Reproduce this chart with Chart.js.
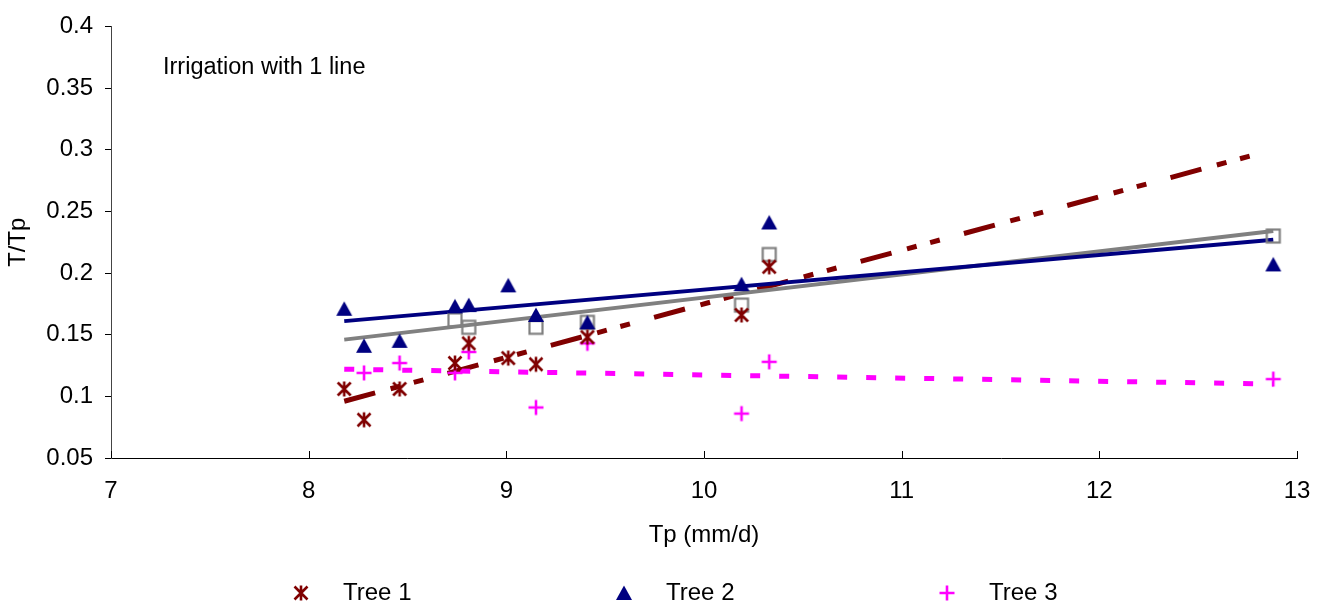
<!DOCTYPE html>
<html>
<head>
<meta charset="utf-8">
<script src="https://cdn.jsdelivr.net/npm/chart.js@4.4.0/dist/chart.umd.min.js"></script>
<style>
	html, body { margin: 0; padding: 0; background: #fff; }
	#wrap { width: 1332px; height: 614px; }
</style>
</head>
<body>
<div id="wrap"><canvas id="tpChart" width="1332" height="614"></canvas></div>
<script>
// ================================ [ Data ] ================================

// Tree 1
const tpTree1 = [8.18, 8.28, 8.46, 8.74, 8.81, 9.01, 9.15, 9.41, 10.19, 10.33];
const ratioTree1 = [0.106, 0.081, 0.106, 0.127, 0.143, 0.131, 0.126, 0.148, 0.166, 0.205];

// Tree 2
const tpTree2 = [8.18, 8.28, 8.46, 8.74, 8.81, 9.01, 9.15, 9.41, 10.19, 10.33, 12.88];
const ratioTree2 = [0.171, 0.141, 0.145, 0.173, 0.174, 0.190, 0.166, 0.160, 0.191, 0.241, 0.207];

// Tree 3
const tpTree3 = [8.28, 8.46, 8.74, 8.81, 9.15, 9.41, 10.19, 10.33, 12.88];
const ratioTree3 = [0.119, 0.127, 0.119, 0.136, 0.091, 0.143, 0.086, 0.128, 0.114];

// average (grey squares, not in legend)
const tpMean = [8.74, 8.81, 9.15, 9.41, 10.19, 10.33, 12.88];
const ratioMean = [0.162, 0.156, 0.156, 0.160, 0.174, 0.215, 0.230];

// trend lines, end points
const trendTp = [8.18, 12.88];
const trendTree1 = [0.096, 0.300];
const trendTree2 = [0.161, 0.227];
const trendTree3 = [0.122, 0.110];
const trendMean = [0.146, 0.234];

// axis ticks
const xTicks = [7, 8, 9, 10, 11, 12, 13];
const yTicks = [0.05, 0.1, 0.15, 0.2, 0.25, 0.3, 0.35, 0.4];

const noteText = "Irrigation with 1 line";

// ================================ [ Markers ] ================================

const makeMarker = (kind, color) => {
	const c = document.createElement("canvas");
	c.width = 20;
	c.height = 20;
	const g = c.getContext("2d");
	g.strokeStyle = color;
	g.fillStyle = color;
	g.lineWidth = 2.6;
	g.beginPath();
	if(kind === "asterisk"){
		g.moveTo(3.5, 3.5); g.lineTo(16.5, 16.5);
		g.moveTo(16.5, 3.5); g.lineTo(3.5, 16.5);
		g.moveTo(10, 2.5); g.lineTo(10, 17.5);
		g.stroke();
	} else if(kind === "triangle"){
		g.moveTo(10, 2.5); g.lineTo(18, 17); g.lineTo(2, 17);
		g.closePath();
		g.fill();
	} else if(kind === "plus"){
		g.moveTo(2.5, 10); g.lineTo(17.5, 10);
		g.moveTo(10, 2.5); g.lineTo(10, 17.5);
		g.stroke();
	} else {
		g.lineWidth = 2.2;
		g.strokeRect(3.5, 3.5, 13, 13);
	}
	return c;
};

const toPoints = (xs, ys) => xs.map((x, i) => ({x: x, y: ys[i]}));

// ================================ [ Plugins ] ================================

// x axis ticks point up into the plot
const inwardTicks = {
	id: "inwardTicks",
	afterDraw(chart){
		const ctx = chart.ctx;
		const sx = chart.scales.x;
		const bottom = chart.chartArea.bottom;
		ctx.save();
		ctx.strokeStyle = "#000";
		ctx.lineWidth = 1;
		xTicks.forEach((v) => {
			const px = Math.round(sx.getPixelForValue(v)) + 0.5;
			ctx.beginPath();
			ctx.moveTo(px, bottom);
			ctx.lineTo(px, bottom - 7);
			ctx.stroke();
		});
		ctx.restore();
	}
};

// text label inside the plot
const noteLabel = {
	id: "noteLabel",
	afterDraw(chart){
		const ctx = chart.ctx;
		const area = chart.chartArea;
		ctx.save();
		ctx.font = "23.5px 'Liberation Sans', Arial, sans-serif";
		ctx.fillStyle = "#000";
		ctx.textBaseline = "middle";
		ctx.fillText(noteText, area.left + 52, area.top + 41);
		ctx.restore();
	}
};

// legend along the bottom, wide spacing like the original
const bottomLegend = {
	id: "bottomLegend",
	afterDraw(chart){
		const ctx = chart.ctx;
		const items = chart.data.datasets.filter((d) => d.inLegend);
		const step = 323;
		const startX = chart.width / 2 - 365;
		const y = chart.height - 21;
		ctx.save();
		ctx.font = "24px 'Liberation Sans', Arial, sans-serif";
		ctx.fillStyle = "#000";
		ctx.textBaseline = "middle";
		items.forEach((d, i) => {
			const mx = startX + i * step;
			const img = d.pointStyle;
			ctx.drawImage(img, Math.round(mx - img.width / 2), Math.round(y - img.height / 2));
			ctx.fillText(d.label, mx + 42, y);
		});
		ctx.restore();
	}
};

// ================================ [ Chart ] ================================

Chart.defaults.font.family = "'Liberation Sans', Arial, sans-serif";
Chart.defaults.font.size = 24;
Chart.defaults.color = "#000";

const trendLine = (label, ys, color, width, dash) => ({
	label: label,
	data: toPoints(trendTp, ys),
	showLine: true,
	borderColor: color,
	borderWidth: width,
	borderDash: dash,
	pointRadius: 0,
	pointHoverRadius: 0,
	inLegend: false
});

const tpChart = new Chart(document.getElementById("tpChart"), {
	type: "scatter",
	data: {
		datasets: [
			{ label: "Tree 1", data: toPoints(tpTree1, ratioTree1), pointStyle: makeMarker("asterisk", "#800000"), inLegend: true },
			{ label: "Tree 2", data: toPoints(tpTree2, ratioTree2), pointStyle: makeMarker("triangle", "#000080"), inLegend: true },
			{ label: "Tree 3", data: toPoints(tpTree3, ratioTree3), pointStyle: makeMarker("plus", "#FF00FF"), inLegend: true },
			{ label: "Mean", data: toPoints(tpMean, ratioMean), pointStyle: makeMarker("square", "#808080"), inLegend: false },
			trendLine("Trend Tree 2", trendTree2, "#000080", 4, []),
			trendLine("Trend Mean", trendMean, "#808080", 4, []),
			trendLine("Trend Tree 3", trendTree3, "#FF00FF", 5, [10, 19]),
			trendLine("Trend Tree 1", trendTree1, "#800000", 5, [32, 16, 10, 14, 10, 25])
		]
	},
	options: {
		responsive: false,
		animation: false,
		devicePixelRatio: 1,
		layout: {
			padding: { left: 0, right: 35, top: 20, bottom: 60 }
		},
		plugins: {
			legend: { display: false },
			tooltip: { enabled: false }
		},
		scales: {
			x: {
				type: "linear",
				min: 7,
				max: 13,
				afterBuildTicks: (scale) => { scale.ticks = xTicks.map((v) => ({value: v})); },
				afterFit: (scale) => { scale.height = 96; },
				grid: { display: false, drawTicks: false },
				border: { display: true, color: "#000", width: 1 },
				ticks: { padding: 19 },
				title: { display: true, text: "Tp (mm/d)", padding: { top: 0, bottom: 4 } }
			},
			y: {
				type: "linear",
				min: 0.05,
				max: 0.4,
				afterBuildTicks: (scale) => { scale.ticks = yTicks.map((v) => ({value: v})); },
				afterFit: (scale) => { scale.width = 111; },
				grid: { display: true, drawOnChartArea: false, drawTicks: true, tickLength: 6, color: "#000" },
				border: { display: true, color: "#444", width: 1 },
				ticks: {
					padding: 12,
					callback: (v) => parseFloat(v.toFixed(2)).toString()
				},
				title: { display: true, text: "T/Tp", padding: { top: 4, bottom: 0 } }
			}
		}
	},
	plugins: [inwardTicks, noteLabel, bottomLegend]
});
</script>
</body>
</html>
